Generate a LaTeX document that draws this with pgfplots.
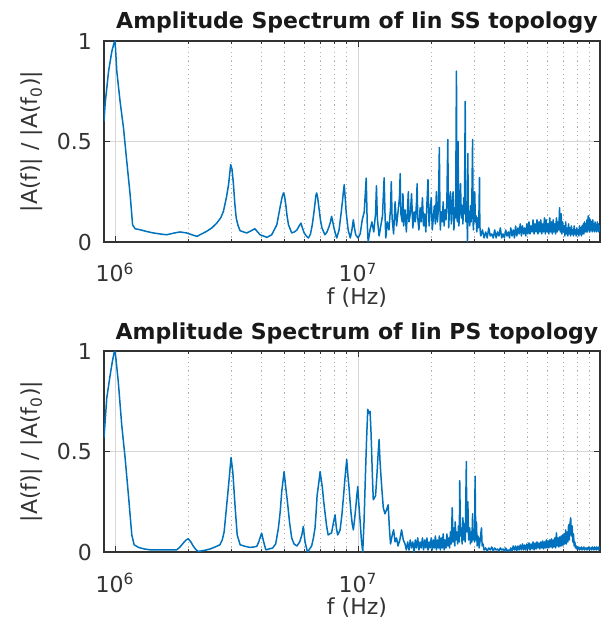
\documentclass[border=0pt]{standalone}
\usepackage{fontspec}
\setmainfont{DejaVu Sans}
\usepackage{pgfplots}
\pgfplotsset{compat=1.18}
\definecolor{mblue}{rgb}{0,0.447,0.741}

\begin{document}
\begin{tikzpicture}
\path[use as bounding box] (-52pt,-191.5pt) rectangle (253.5pt,121pt);

\begin{axis}[at={(0pt,0pt)}, anchor=south west,
    scale only axis, width=248pt, height=100.5pt,
    xmode=log, xmin=0.9, xmax=99, ymin=0, ymax=1,
    xtick={1,10}, xticklabels={10\textsuperscript{6},10\textsuperscript{7}},
    minor xtick={2,3,4,5,6,7,8,9,20,30,40,50,60,70,80,90},
    ytick={0,0.5,1}, yticklabels={0,0.5,1},
    xmajorgrids=true, xminorgrids=true, ymajorgrids=true,
    major grid style={black!16, line width=0.5pt},
    minor grid style={black!30, dash pattern=on 0.6pt off 1.6pt, line width=0.5pt},
    axis line style={black!80, line width=0.6pt},
    tick align=inside, major tick length=3pt, minor tick length=1.5pt,
    tick style={black!80, line width=0.5pt},
    tick label style={font=\fontsize{11}{13}\selectfont, text=black!80},
    label style={font=\fontsize{11}{13}\selectfont, text=black!80},
    title style={font=\bfseries\fontsize{11}{13}\selectfont, text=black!90,
      at={(axis description cs:0.51,1)}, anchor=base, yshift=0pt},
    xlabel={f (Hz)},
    ylabel={|A(f)| / |A(f\textsubscript{0})|},
    xlabel style={at={(axis description cs:0.51,-0.279)}, anchor=center},
    ylabel style={at={(axis description cs:-0.145,0.5)}, anchor=center},
    xticklabel style={anchor=base, yshift=-20pt},
    yticklabel style={xshift=-2.5pt},
    title={Amplitude Spectrum of Iin SS topology}]
\addplot[mblue, line width=0.75pt, line join=round] coordinates {
(0.90,0.60)(0.91,0.69)(0.94,0.85)(0.97,0.95)(0.99,0.99)(1.00,1.00)(1.016,0.85)(1.048,0.70)
(1.082,0.57)(1.117,0.40)(1.153,0.235)(1.18,0.086)(1.208,0.066)(1.267,0.061)(1.35,0.052)
(1.438,0.045)(1.53,0.040)(1.632,0.036)(1.74,0.044)(1.85,0.050)(1.97,0.045)(2.07,0.036)
(2.17,0.028)(2.27,0.040)(2.38,0.053)(2.50,0.070)(2.62,0.094)(2.72,0.12)(2.79,0.152)
(2.87,0.22)(2.93,0.285)(2.99,0.385)(3.03,0.36)(3.07,0.285)(3.11,0.19)(3.15,0.12)(3.21,0.08)
(3.27,0.056)(3.38,0.05)(3.48,0.045)(3.62,0.055)(3.76,0.066)(3.86,0.05)(3.95,0.036)(4.08,0.03)
(4.21,0.023)(4.41,0.036)(4.63,0.086)(4.77,0.17)(4.86,0.22)(4.93,0.244)(4.98,0.23)(5.04,0.186)
(5.10,0.13)(5.17,0.086)(5.33,0.045)(5.47,0.05)(5.60,0.06)(5.72,0.08)(5.82,0.094)(5.90,0.07)
(6.00,0.045)(6.12,0.03)(6.25,0.02)(6.37,0.04)(6.48,0.086)(6.57,0.14)(6.64,0.186)(6.70,0.23)
(6.75,0.244)(6.82,0.22)(6.90,0.17)(7.00,0.11)(7.10,0.07)(7.30,0.036)(7.45,0.05)(7.60,0.078)
(7.70,0.10)(7.78,0.128)(7.87,0.10)(7.96,0.07)(8.07,0.04)(8.17,0.02)(8.35,0.06)(8.50,0.136)
(8.62,0.20)(8.70,0.25)(8.77,0.285)(8.85,0.22)(8.93,0.15)(9.10,0.06)(9.29,0.02)(9.43,0.06)
(9.56,0.11)(9.66,0.07)(9.78,0.036)(10.0,0.02)(10.2,0.04)(10.4,0.11)(10.6,0.15)(10.8,0.318)
(10.9,0.10)(11.0,0.00)(11.2,0.06)(11.4,0.10)(11.6,0.05)(11.8,0.14)(11.9,0.28)(12.0,0.12)
(12.2,0.03)(12.4,0.08)(12.6,0.13)(12.8,0.32)(12.9,0.15)(13.0,0.02)(13.2,0.10)(13.4,0.06)
(13.6,0.17)(13.7,0.30)(13.8,0.12)(14.0,0.04)(14.2,0.20)(14.4,0.08)(14.6,0.15)(14.8,0.22)
(14.9,0.34)(15.0,0.14)(15.2,0.10)(15.3,0.24)(15.4,0.08)(15.6,0.16)(15.8,0.05)(16.0,0.18)
(16.1,0.25)(16.2,0.10)(16.4,0.14)(16.6,0.24)(16.8,0.07)(17.0,0.15)(17.2,0.10)(17.4,0.20)
(17.5,0.29)(17.6,0.12)(17.8,0.06)(18.0,0.17)(18.2,0.10)(18.4,0.22)(18.6,0.08)(18.8,0.14)
(19.0,0.05)(19.2,0.19)(19.4,0.31)(19.5,0.18)(19.6,0.08)(19.8,0.15)(20.0,0.22)(20.2,0.06)
(20.4,0.12)(20.6,0.18)(20.8,0.09)(21.0,0.25)(21.2,0.10)(21.4,0.16)(21.6,0.47)(21.7,0.20)
(21.8,0.06)(22.0,0.15)(22.2,0.10)(22.4,0.20)(22.6,0.08)(22.8,0.16)(23.0,0.11)(23.2,0.21)
(23.4,0.51)(23.5,0.24)(23.6,0.07)(23.8,0.18)(24.0,0.25)(24.2,0.09)(24.4,0.19)(24.6,0.25)
(24.8,0.06)(25.0,0.17)(25.2,0.12)(25.4,0.85)(25.5,0.20)(25.6,0.10)(25.8,0.50)(25.9,0.15)
(26.0,0.08)(26.2,0.20)(26.4,0.29)(26.6,0.12)(26.8,0.18)(27.0,0.09)(27.2,0.22)(27.4,0.14)
(27.6,0.70)(27.7,0.25)(27.8,0.10)(28.0,0.20)(28.2,0.00)(28.3,0.44)(28.4,0.16)(28.6,0.13)
(28.8,0.08)(29.0,0.18)(29.2,0.10)(29.4,0.22)(29.6,0.51)(29.7,0.18)(29.8,0.06)(30.0,0.15)
(30.2,0.25)(30.4,0.10)(30.6,0.13)(30.8,0.05)(31.0,0.12)(31.2,0.07)(31.4,0.10)(31.6,0.32)
(31.7,0.08)(31.9,0.04)
(32.0,0.03)(32.5,0.06)(33.0,0.02)(33.5,0.05)(34.0,0.02)(34.5,0.07)(35.0,0.03)(35.5,0.04)
(36.0,0.02)(36.5,0.06)(37.0,0.02)(37.5,0.05)(38.0,0.03)(38.5,0.07)(39.0,0.02)(39.5,0.04)
(40.0,0.02)(40.5,0.06)(41.0,0.03)(41.5,0.05)(42.0,0.02)(42.5,0.07)(43.0,0.03)(43.5,0.06)
(44.0,0.02)(44.5,0.08)(45.0,0.03)(45.5,0.07)(46.0,0.04)(46.5,0.09)(47.0,0.03)(47.5,0.08)
(48.0,0.04)(48.5,0.07)(49.0,0.03)(49.5,0.09)(50.0,0.04)(50.5,0.10)(51.0,0.04)(51.5,0.08)
(52.0,0.05)(52.5,0.11)(53.0,0.04)(53.5,0.09)(54.0,0.05)(54.5,0.11)(55.0,0.04)(55.5,0.10)
(56.0,0.05)(56.5,0.11)(57.0,0.04)(57.5,0.09)(58.0,0.05)(58.5,0.12)(59.0,0.04)(59.5,0.11)
(60.0,0.05)(60.5,0.09)(61.0,0.04)(61.5,0.12)(62.0,0.05)(62.5,0.10)(63.0,0.04)(63.5,0.11)
(64.0,0.05)(64.5,0.09)(65.0,0.04)(65.5,0.12)(66.0,0.05)(66.5,0.10)(67.0,0.06)(67.5,0.17)
(68.0,0.05)(68.5,0.14)(69.0,0.04)(69.5,0.10)(70.0,0.05)(70.5,0.08)(71.0,0.03)(71.5,0.10)
(72.0,0.04)(72.5,0.07)(73.0,0.03)(73.5,0.09)(74.0,0.04)(74.5,0.07)(75.0,0.03)(75.5,0.08)
(76.0,0.04)(76.5,0.06)(77.0,0.03)(77.5,0.08)(78.0,0.04)(78.5,0.06)(79.0,0.03)(79.5,0.07)
(80.0,0.04)(80.5,0.06)(81.0,0.03)(81.5,0.08)(82.0,0.04)(82.5,0.07)(83.0,0.03)(83.5,0.08)
(84.0,0.04)(84.5,0.09)(85.0,0.04)(85.5,0.10)(86.0,0.05)(86.5,0.09)(87.0,0.05)(87.5,0.11)
(88.0,0.05)(88.5,0.13)(89.0,0.06)(89.5,0.12)(90.0,0.05)(90.5,0.11)(91.0,0.06)(91.5,0.10)
(92.0,0.05)(92.5,0.11)(93.0,0.06)(93.5,0.09)(94.0,0.05)(94.5,0.10)(95.0,0.06)(95.5,0.08)
(96.0,0.05)(96.5,0.10)(97.0,0.06)(97.5,0.09)(98.0,0.05)(98.5,0.08)(99.0,0.07)
};
\end{axis}

\begin{axis}[at={(0pt,-155pt)}, anchor=south west,
    scale only axis, width=248pt, height=100.5pt,
    xmode=log, xmin=0.9, xmax=99, ymin=0, ymax=1,
    xtick={1,10}, xticklabels={10\textsuperscript{6},10\textsuperscript{7}},
    minor xtick={2,3,4,5,6,7,8,9,20,30,40,50,60,70,80,90},
    ytick={0,0.5,1}, yticklabels={0,0.5,1},
    xmajorgrids=true, xminorgrids=true, ymajorgrids=true,
    major grid style={black!16, line width=0.5pt},
    minor grid style={black!30, dash pattern=on 0.6pt off 1.6pt, line width=0.5pt},
    axis line style={black!80, line width=0.6pt},
    tick align=inside, major tick length=3pt, minor tick length=1.5pt,
    tick style={black!80, line width=0.5pt},
    tick label style={font=\fontsize{11}{13}\selectfont, text=black!80},
    label style={font=\fontsize{11}{13}\selectfont, text=black!80},
    title style={font=\bfseries\fontsize{11}{13}\selectfont, text=black!90,
      at={(axis description cs:0.51,1)}, anchor=base, yshift=0pt},
    xlabel={f (Hz)},
    ylabel={|A(f)| / |A(f\textsubscript{0})|},
    xlabel style={at={(axis description cs:0.51,-0.279)}, anchor=center},
    ylabel style={at={(axis description cs:-0.145,0.5)}, anchor=center},
    xticklabel style={anchor=base, yshift=-20pt},
    yticklabel style={xshift=-2.5pt},
    title={Amplitude Spectrum of Iin PS topology}]
\addplot[mblue, line width=0.75pt, line join=round] coordinates {
(0.90,0.57)(0.924,0.766)(0.954,0.88)(0.975,0.95)(0.99,0.99)(1.00,1.00)(1.016,0.92)(1.03,0.85)
(1.065,0.63)(1.099,0.47)(1.134,0.285)(1.171,0.086)(1.197,0.036)(1.247,0.023)(1.32,0.015)
(1.393,0.011)(1.60,0.011)(1.794,0.011)(1.85,0.025)(1.91,0.045)(1.96,0.06)(2.0,0.066)
(2.05,0.05)(2.10,0.028)(2.15,0.012)(2.20,0.003)(2.33,0.008)(2.46,0.015)(2.58,0.025)
(2.70,0.036)(2.76,0.06)(2.81,0.10)(2.88,0.235)(2.94,0.35)(3.00,0.47)(3.05,0.40)(3.12,0.22)
(3.18,0.085)(3.27,0.036)(3.43,0.028)(3.59,0.023)(3.72,0.025)(3.83,0.028)(3.90,0.05)
(3.95,0.07)(4.01,0.094)(4.08,0.054)(4.17,0.011)(4.30,0.015)(4.45,0.02)(4.58,0.04)(4.70,0.12)
(4.78,0.20)(4.85,0.30)(4.96,0.40)(5.04,0.32)(5.13,0.24)(5.22,0.15)(5.33,0.07)(5.45,0.04)
(5.60,0.03)(5.75,0.05)(5.87,0.085)(5.95,0.127)(6.05,0.05)(6.19,0.0)(6.32,0.015)(6.44,0.03)
(6.55,0.07)(6.65,0.12)(6.72,0.20)(6.78,0.28)(6.90,0.35)(6.98,0.40)(7.05,0.36)(7.13,0.32)
(7.22,0.25)(7.32,0.19)(7.42,0.13)(7.53,0.085)(7.65,0.09)(7.78,0.095)(7.90,0.14)(8.04,0.185)
(8.14,0.12)(8.24,0.085)(8.33,0.095)(8.43,0.11)(8.57,0.18)(8.70,0.27)(8.85,0.38)(8.98,0.46)
(9.08,0.38)(9.18,0.32)(9.27,0.25)(9.36,0.19)(9.46,0.14)(9.56,0.11)(9.67,0.16)(9.78,0.22)
(9.88,0.28)(9.97,0.325)(10.07,0.24)(10.2,0.15)(10.32,0.06)(10.45,0.0)(10.58,0.15)(10.7,0.35)
(10.83,0.55)(10.96,0.71)(11.08,0.69)(11.2,0.70)(11.3,0.60)(11.37,0.50)(11.45,0.38)
(11.55,0.26)(11.68,0.27)(11.8,0.28)(11.95,0.38)(12.08,0.48)(12.2,0.56)(12.3,0.46)(12.4,0.39)
(12.55,0.30)(12.7,0.22)(12.9,0.19)(13.1,0.21)(13.3,0.235)(13.45,0.12)(13.6,0.04)(13.8,0.08)
(14.0,0.11)(14.2,0.05)(14.4,0.07)(14.6,0.03)(14.85,0.06)(15.1,0.11)(15.35,0.06)(15.6,0.04)
(15.8,0.01)
(16.0,0.05)(16.2,0.01)(16.4,0.06)(16.6,0.02)(16.8,0.05)(17.0,0.00)(17.2,0.06)(17.4,0.02)
(17.6,0.07)(17.8,0.01)(18.0,0.05)(18.2,0.02)(18.4,0.07)(18.6,0.01)(18.8,0.06)(19.0,0.02)
(19.2,0.07)(19.4,0.01)(19.6,0.05)(19.8,0.02)(20.0,0.07)(20.2,0.01)(20.4,0.06)(20.6,0.02)
(20.8,0.08)(21.0,0.01)(21.2,0.06)(21.4,0.02)(21.6,0.08)(21.8,0.01)(22.0,0.07)(22.2,0.02)
(22.4,0.09)(22.6,0.01)(22.8,0.06)(23.0,0.02)(23.2,0.09)(23.4,0.03)(23.6,0.07)(23.8,0.02)
(24.0,0.10)(24.2,0.04)(24.4,0.22)(24.6,0.05)(24.8,0.12)(25.0,0.03)(25.1,0.15)(25.3,0.06)
(25.5,0.10)(25.7,0.04)(25.9,0.13)(26.1,0.05)(26.2,0.355)(26.4,0.08)(26.6,0.12)(26.8,0.04)
(27.0,0.17)(27.2,0.06)(27.4,0.14)(27.6,0.05)(27.9,0.45)(28.0,0.10)(28.3,0.25)(28.5,0.06)
(28.8,0.12)(29.0,0.04)(29.2,0.10)(29.4,0.05)(29.6,0.19)(29.8,0.06)(30.0,0.11)(30.2,0.05)
(30.3,0.377)(30.5,0.06)(30.7,0.15)(30.9,0.03)(31.1,0.08)(31.3,0.07)(31.5,0.02)(31.8,0.06)
(32.2,0.12)(32.4,0.03)(32.7,0.04)(33.0,0.01)
(33.5,0.02)(34.0,0.005)(34.5,0.02)(35.0,0.01)(35.5,0.025)(36.0,0.005)(36.5,0.02)(37.0,0.01)
(37.5,0.015)(38.0,0.005)(38.5,0.02)(39.0,0.01)(39.5,0.015)(40.0,0.005)(40.5,0.02)(41.0,0.005)
(41.5,0.01)(42.0,0.005)(42.5,0.02)(43.0,0.005)(43.5,0.03)(44.0,0.01)(44.5,0.03)(45.0,0.005)
(45.5,0.03)(46.0,0.01)(46.5,0.035)(47.0,0.01)(47.5,0.04)(48.0,0.01)(48.5,0.035)(49.0,0.01)
(49.5,0.04)(50.0,0.015)(50.5,0.045)(51.0,0.01)(51.5,0.04)(52.0,0.015)(52.5,0.05)(53.0,0.01)
(53.5,0.045)(54.0,0.015)(54.5,0.05)(55.0,0.02)(55.5,0.045)(56.0,0.015)(56.5,0.05)(57.0,0.02)
(57.5,0.055)(58.0,0.015)(58.5,0.05)(59.0,0.02)(59.5,0.06)(60.0,0.02)(60.5,0.055)(61.0,0.02)
(61.5,0.06)(62.0,0.025)(62.5,0.065)(63.0,0.02)(63.5,0.06)(64.0,0.025)(64.5,0.07)(65.0,0.02)
(65.5,0.095)(66.0,0.03)(66.5,0.07)(67.0,0.025)(67.5,0.075)(68.0,0.03)(68.5,0.08)(69.0,0.03)
(69.5,0.085)(70.0,0.035)(70.5,0.09)(71.0,0.04)(71.5,0.11)(72.0,0.04)(72.5,0.10)(73.0,0.05)
(73.5,0.135)(74.0,0.06)(74.5,0.14)(75.0,0.17)(75.5,0.08)(76.0,0.13)(76.5,0.05)(77.0,0.09)
(77.5,0.03)(78.0,0.05)(78.5,0.02)(79.0,0.03)(79.5,0.015)(80.0,0.025)(80.5,0.015)(81.0,0.025)
(81.5,0.01)(82.0,0.02)(82.5,0.015)(83.0,0.025)(83.5,0.01)(84.0,0.02)(84.5,0.015)(85.0,0.025)
(85.5,0.01)(86.0,0.02)(86.5,0.015)(87.0,0.02)(87.5,0.01)(88.0,0.02)(88.5,0.015)(89.0,0.025)
(89.5,0.01)(90.0,0.02)(90.5,0.015)(91.0,0.02)(91.5,0.01)(92.0,0.025)(92.5,0.015)(93.0,0.02)
(93.5,0.01)(94.0,0.025)(94.5,0.015)(95.0,0.02)(95.5,0.01)(96.0,0.025)(96.5,0.015)(97.0,0.02)
(97.5,0.01)(98.0,0.025)(98.5,0.015)(99.0,0.02)
};
\end{axis}
\end{tikzpicture}
\end{document}
